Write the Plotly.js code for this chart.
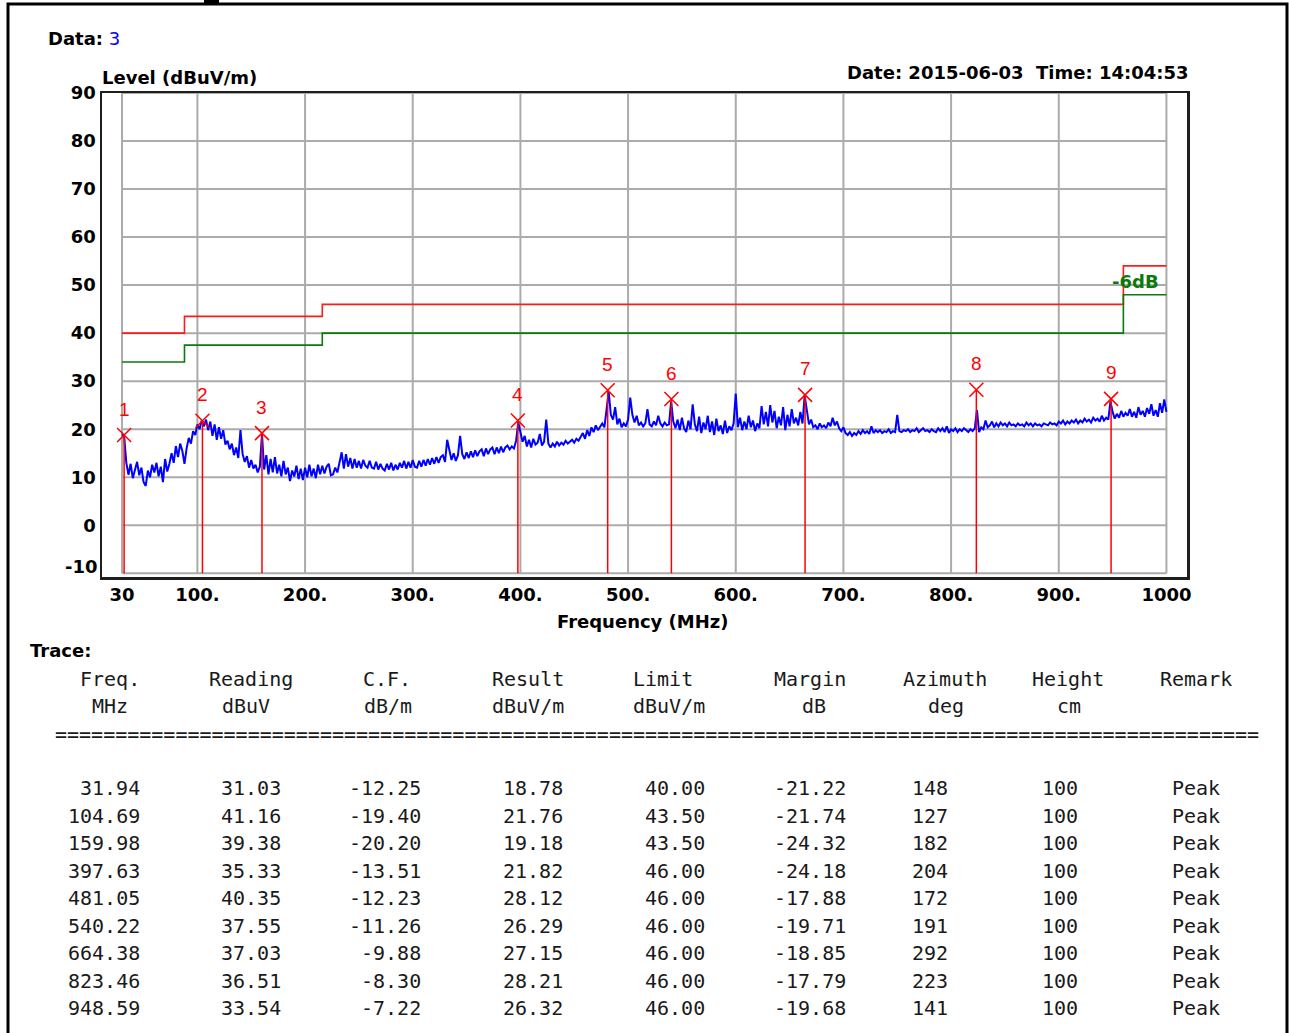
<!DOCTYPE html>
<html>
<head>
<meta charset="utf-8">
<script src="https://cdn.plot.ly/plotly-3.0.1.min.js"></script>
<style>html,body{margin:0;padding:0;background:#fff;}#chart{width:1289px;height:1033px;}</style>
</head>
<body>
<div id="chart"></div>
<script>
// ---------------- data ----------------
const traceFreqStart = 30;   // MHz, sweep start
const traceFreqStep = 2;     // MHz, sweep step
const traceLevel = [
  // 30 - 68
  19.0, 18.5, 13.0, 10.5, 12.8, 9.8, 11.5, 13.2, 10.4, 12.0, 9.0, 8.2, 11.4, 10.0, 12.6, 11.0, 13.0, 10.2, 12.2, 9.0,
  // 70 - 108
  13.8, 11.2, 12.8, 15.0, 13.0, 16.5, 14.2, 17.0, 15.5, 12.8, 16.0, 18.2, 17.0, 19.6, 18.8, 21.0, 20.0, 21.8, 20.6, 22.0,
  // 110 - 148
  19.8, 21.6, 18.6, 21.0, 17.8, 20.4, 18.0, 19.8, 16.8, 17.6, 15.8, 17.0, 14.6, 16.2, 14.0, 19.8, 14.8, 13.2, 14.4, 12.0,
  // 150 - 188
  13.6, 11.8, 12.6, 11.0, 12.2, 19.0, 11.6, 14.6, 10.6, 13.8, 11.0, 14.2, 10.8, 12.6, 10.2, 13.4, 10.6, 12.0, 9.2, 11.4,
  // 190 - 228
  10.2, 12.4, 9.6, 11.8, 9.4, 12.0, 10.0, 12.6, 10.2, 11.8, 9.8, 12.6, 10.6, 12.4, 10.8, 12.2, 12.8, 10.4, 10.6, 12.0,
  // 230 - 268
  11.0, 12.8, 15.2, 11.8, 14.8, 12.2, 14.0, 11.8, 13.8, 12.0, 13.4, 11.8, 13.6, 12.4, 12.0, 13.4, 12.0, 11.8, 13.2, 11.6,
  // 270 - 308
  12.8, 11.8, 11.4, 12.8, 11.6, 13.0, 11.4, 12.6, 11.6, 13.0, 12.0, 13.4, 11.8, 13.2, 12.0, 13.6, 12.2, 12.0, 13.4, 12.2,
  // 310 - 348
  13.6, 12.4, 13.8, 12.6, 14.0, 12.8, 14.2, 13.0, 14.2, 14.6, 13.2, 17.8, 16.0, 13.6, 15.0, 13.4, 14.6, 18.6, 14.8, 13.8,
  // 350 - 388
  15.2, 14.0, 15.4, 14.2, 15.6, 14.4, 15.4, 15.8, 14.4, 16.0, 14.8, 15.8, 16.2, 14.8, 16.2, 15.0, 16.4, 15.2, 16.2, 16.6,
  // 390 - 428
  15.8, 16.4, 16.0, 17.6, 21.4, 19.0, 17.4, 18.6, 16.4, 17.8, 16.2, 18.0, 16.8, 17.2, 19.0, 16.6, 17.4, 22.0, 17.0, 16.2,
  // 430 - 468
  17.0, 16.4, 17.4, 16.6, 17.2, 16.8, 17.6, 17.0, 17.4, 17.8, 17.2, 18.0, 17.6, 18.4, 19.2, 18.0, 19.8, 18.6, 20.4, 19.4,
  // 470 - 508
  20.8, 19.8, 20.6, 21.2, 20.4, 24.0, 27.8, 23.0, 22.0, 24.6, 21.0, 22.2, 20.4, 21.2, 20.6, 22.0, 26.6, 23.0, 21.4, 22.8,
  // 510 - 548
  20.8, 21.4, 20.6, 21.2, 24.2, 21.0, 20.6, 21.6, 20.8, 22.8, 21.2, 20.6, 21.4, 20.8, 21.0, 25.8, 21.6, 20.2, 22.0, 19.8,
  // 550 - 588
  22.4, 20.2, 19.4, 21.8, 20.0, 25.2, 21.0, 19.6, 22.6, 19.2, 21.4, 20.0, 22.8, 19.4, 21.6, 18.8, 22.2, 19.6, 20.8, 19.0,
  // 590 - 628
  21.8, 19.2, 20.6, 19.8, 21.2, 27.4, 20.4, 22.4, 19.8, 21.6, 20.0, 22.8, 20.4, 21.8, 19.6, 21.2, 20.2, 24.8, 21.0, 23.6,
  // 630 - 668
  20.6, 25.0, 21.4, 23.8, 20.2, 22.6, 20.8, 24.6, 19.8, 23.0, 20.6, 24.2, 21.2, 22.4, 20.8, 23.6, 21.2, 27.0, 23.4, 21.0,
  // 670 - 708
  22.0, 20.4, 20.8, 20.0, 21.2, 20.4, 20.8, 20.2, 21.4, 20.6, 22.4, 20.8, 21.6, 20.2, 19.6, 20.4, 19.2, 18.8, 19.4, 18.6,
  // 710 - 748
  19.2, 18.8, 19.6, 19.0, 19.8, 19.2, 19.6, 19.0, 20.6, 19.2, 19.8, 19.4, 19.8, 19.2, 19.6, 19.4, 20.0, 19.2, 19.6, 19.4,
  // 750 - 788
  23.0, 19.6, 19.4, 19.8, 19.6, 20.0, 19.4, 19.8, 19.6, 20.2, 19.4, 19.8, 20.2, 19.6, 19.8, 19.4, 20.0, 19.6, 19.4, 20.2,
  // 790 - 828
  19.6, 20.2, 19.4, 20.6, 19.2, 20.0, 19.6, 20.2, 19.4, 20.0, 19.6, 20.2, 19.8, 19.4, 20.0, 19.6, 20.2, 24.0, 19.4, 20.4,
  // 830 - 868
  20.0, 21.8, 20.4, 20.8, 21.6, 20.4, 21.2, 20.6, 21.4, 20.8, 21.2, 20.6, 21.4, 20.8, 21.0, 20.6, 21.2, 20.8, 21.0, 20.6,
  // 870 - 908
  21.4, 20.8, 21.2, 20.6, 21.2, 20.8, 21.0, 20.6, 21.2, 21.0, 20.8, 21.4, 21.0, 21.2, 20.8, 21.6, 21.2, 21.8, 21.0, 21.6,
  // 910 - 948
  21.2, 21.8, 21.4, 22.0, 21.2, 21.8, 21.4, 22.2, 21.6, 22.0, 21.4, 22.4, 21.8, 22.2, 21.6, 22.8, 21.8, 22.4, 22.0, 25.8,
  // 950 - 988
  23.6, 22.2, 23.2, 22.4, 23.8, 22.6, 23.4, 22.8, 24.2, 22.6, 23.6, 22.4, 24.6, 23.0, 23.8, 22.6, 24.4, 23.2, 25.2, 22.8,
  // 990 - 1000
  24.0, 22.6, 25.4, 23.4, 26.2, 23.6
];

const limitFreq = [30, 88, 216, 960, 1000];
const limitLevel = [40, 43.5, 46, 54];
const limitMinus6Level = [34, 37.5, 40, 48];

const xTickVals = [30, 100, 200, 300, 400, 500, 600, 700, 800, 900, 1000];
const xTickText = ['30', '100.', '200.', '300.', '400.', '500.', '600.', '700.', '800.', '900.', '1000'];
const yTickVals = [-10, 0, 10, 20, 30, 40, 50, 60, 70, 80, 90];

const peakFreq    = [31.94, 104.69, 159.98, 397.63, 481.05, 540.22, 664.38, 823.46, 948.59];
const peakReading = [31.03, 41.16, 39.38, 35.33, 40.35, 37.55, 37.03, 36.51, 33.54];
const peakCF      = [-12.25, -19.40, -20.20, -13.51, -12.23, -11.26, -9.88, -8.30, -7.22];
const peakResult  = [18.78, 21.76, 19.18, 21.82, 28.12, 26.29, 27.15, 28.21, 26.32];
const peakLimit   = [40.00, 43.50, 43.50, 46.00, 46.00, 46.00, 46.00, 46.00, 46.00];
const peakMargin  = [-21.22, -21.74, -24.32, -24.18, -17.88, -19.71, -18.85, -17.79, -19.68];
const peakAzimuth = [148, 127, 182, 204, 172, 191, 292, 223, 141];
const peakHeight  = [100, 100, 100, 100, 100, 100, 100, 100, 100];
const peakRemark  = ['Peak', 'Peak', 'Peak', 'Peak', 'Peak', 'Peak', 'Peak', 'Peak', 'Peak'];

const headerLine1 = ['Freq.', 'Reading', 'C.F.', 'Result', 'Limit', 'Margin', 'Azimuth', 'Height', 'Remark'];
const headerLine2 = ['MHz', 'dBuV', 'dB/m', 'dBuV/m', 'dBuV/m', 'dB', 'deg', 'cm', ''];

// ---------------- layout helpers ----------------
const L = 102, T = 93, W = 1085, H = 484;
const px = x => (x - L) / W;
const py = y => (T + H - y) / H;

const X_RANGE = [11.4, 1019.1];
const Y_RANGE = [-10.77, 90];

const traceFreq = traceLevel.map((_, i) => traceFreqStart + i * traceFreqStep);

const boldFont = {family: 'DejaVu Sans', size: 18, color: '#000', weight: 'bold'};
const monoFont = {family: 'DejaVu Sans Mono', size: 20, color: '#1a1a1a'};

// ---------------- traces ----------------
const stepY = arr => arr.concat([arr[arr.length - 1]]);

const traces = [];
traces.push({x: limitFreq, y: stepY(limitLevel), mode: 'lines', line: {color: '#ff1a1a', width: 1.6, shape: 'hv'}, hoverinfo: 'skip'});
traces.push({x: limitFreq, y: stepY(limitMinus6Level), mode: 'lines', line: {color: '#0b7a0b', width: 1.6, shape: 'hv'}, hoverinfo: 'skip'});
traces.push({x: traceFreq, y: traceLevel, mode: 'lines', line: {color: '#0000ff', width: 2}, hoverinfo: 'skip'});

const vx = [], vy = [];
peakFreq.forEach((f, i) => { vx.push(f, f, null); vy.push(peakResult[i], yTickVals[0], null); });
traces.push({x: vx, y: vy, mode: 'lines', line: {color: '#ff0000', width: 1.5}, hoverinfo: 'skip'});
traces.push({x: peakFreq, y: peakResult, mode: 'markers',
  marker: {symbol: 'x-thin-open', size: 14, color: '#ff0000', line: {color: '#ff0000', width: 1.5}}, hoverinfo: 'skip'});

// ---------------- shapes ----------------
const shapes = [];
const gridStyle = {color: '#ababab', width: 2};
xTickVals.forEach(v => shapes.push({type: 'line', xref: 'x', yref: 'y', x0: v, x1: v,
  y0: yTickVals[0], y1: yTickVals[yTickVals.length - 1], line: gridStyle, layer: 'below'}));
yTickVals.forEach(v => shapes.push({type: 'line', xref: 'x', yref: 'y', y0: v, y1: v,
  x0: xTickVals[0], x1: xTickVals[xTickVals.length - 1], line: gridStyle, layer: 'below'}));
// outer page frame
shapes.push({type: 'rect', xref: 'paper', yref: 'paper', x0: px(8), x1: px(1287), y0: py(1045), y1: py(4),
  line: {color: '#000', width: 3}, fillcolor: 'rgba(0,0,0,0)'});
shapes.push({type: 'rect', xref: 'paper', yref: 'paper', x0: px(204), x1: px(219), y0: py(4), y1: py(-2),
  line: {width: 0}, fillcolor: '#000'});

// ---------------- annotations ----------------
const ann = [];
const addText = (x, y, text, font, xanchor) => ann.push({xref: 'paper', yref: 'paper', x: px(x), y: py(y),
  text: text, showarrow: false, font: font, xanchor: xanchor || 'left', yanchor: 'middle'});

addText(46, 38, '<b>Data:</b> <span style="color:#0000ff">3</span>', {family: 'DejaVu Sans', size: 18, color: '#000'});
addText(100, 77, 'Level (dBuV/m)', boldFont);
addText(1190, 73, 'Date: 2015-06-03\u00a0\u00a0Time: 14:04:53', boldFont, 'right');
addText(643, 621, 'Frequency (MHz)', boldFont, 'center');
addText(1161, 281, '-6dB', {family: 'DejaVu Sans', size: 18, color: '#0b7a0b', weight: 'bold'}, 'right');
addText(100, 566, yTickVals[0].toString(), boldFont, 'right');
addText(28, 650, 'Trace:', boldFont);

// marker numbers
peakFreq.forEach((f, i) => ann.push({xref: 'x', yref: 'y', x: f, y: peakResult[i], yshift: 26,
  text: String(i + 1), showarrow: false, font: {family: 'Liberation Sans', size: 19, color: '#ff0000'}}));

// table header
const headLeft1 = [78, 207, 361, 490, 631, 772, 901, 1030, 1158];
const headLeft2 = [90, 220, 362, 490, 631, 800, 926, 1055, 0];
headerLine1.forEach((t, i) => addText(headLeft1[i], 679, t, monoFont));
headerLine2.forEach((t, i) => { if (t) addText(headLeft2[i], 706, t, monoFont); });
addText(53, 734, '='.repeat(100), monoFont);

// table rows
const colRight = [142, 283, 423, 565, 707, 848, 950, 1080];
const remarkLeft = 1170;
const rowY0 = 788, rowDY = 27.5;
peakFreq.forEach((f, i) => {
  const y = rowY0 + i * rowDY;
  const cells = [f.toFixed(2), peakReading[i].toFixed(2), peakCF[i].toFixed(2), peakResult[i].toFixed(2),
    peakLimit[i].toFixed(2), peakMargin[i].toFixed(2), String(peakAzimuth[i]), String(peakHeight[i])];
  cells.forEach((c, j) => addText(colRight[j], y, c, monoFont, 'right'));
  addText(remarkLeft, y, peakRemark[i], monoFont);
});

const layout = {
  width: 1289, height: 1033,
  margin: {l: L, r: 1289 - L - W, t: T, b: 1033 - T - H, pad: 0},
  paper_bgcolor: '#fff', plot_bgcolor: '#fff',
  showlegend: false,
  xaxis: {range: X_RANGE, showgrid: false, zeroline: false, tickmode: 'array', tickvals: xTickVals, ticktext: xTickText,
    ticks: '', tickfont: boldFont, showline: true, linecolor: '#1e1e1e', linewidth: 2.5, mirror: true, fixedrange: true},
  yaxis: {range: Y_RANGE, showgrid: false, zeroline: false, tickmode: 'array', tickvals: yTickVals.slice(1),
    ticks: '', tickfont: boldFont, showline: true, linecolor: '#1e1e1e', linewidth: 2.5, mirror: true, fixedrange: true},
  shapes: shapes,
  annotations: ann
};

Plotly.newPlot('chart', traces, layout, {displayModeBar: false, staticPlot: true});
</script>
</body>
</html>
